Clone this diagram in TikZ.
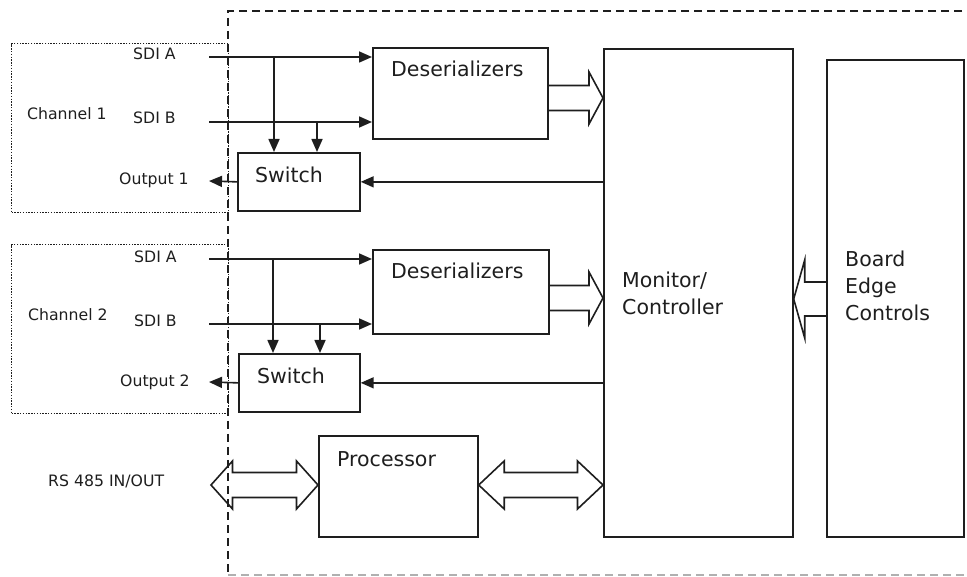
\documentclass[tikz,border=0pt]{standalone}
\usepackage{fontspec}
\setmainfont{DejaVu Sans}
\usetikzlibrary{arrows.meta,calc}

\definecolor{ink}{HTML}{1E1E1E}

\tikzset{
  box/.style={draw=ink, line width=1.7pt, rectangle, inner sep=0pt, anchor=north west},
  chanbox/.style={draw=ink, line width=1.3pt, dash pattern=on 1.4pt off 1.4pt, rectangle, inner sep=0pt, anchor=north west},
  outer/.style={draw=ink, line width=1.8pt, dash pattern=on 8pt off 5pt},
  sig/.style={draw=ink, line width=1.6pt, -{Triangle[length=13pt,width=11pt]}},
  blockline/.style={draw=ink, line width=1.6pt, line join=miter},
  bigtxt/.style={inner sep=0pt, text=ink, font=\fontsize{20.5}{27}\selectfont},
  smalltxt/.style={inner sep=0pt, text=ink, font=\fontsize{15.7}{19}\selectfont, anchor=base west},
}

% open-ended block arrow: start point, tip, head length, shaft half width, head half width
\newcommand\blockarrow[5]{%
  \draw[blockline] let \p1=(#1), \p2=(#2), \n1={ifthenelse(\x2>\x1,1,-1)} in
    (\x1,\y1+#4) -- (\x2-\n1*#3,\y1+#4) -- (\x2-\n1*#3,\y1+#5) -- (\x2,\y1)
    -- (\x2-\n1*#3,\y1-#5) -- (\x2-\n1*#3,\y1-#4) -- (\x1,\y1-#4);}

% closed two-headed block arrow: left tip, right tip, head length, shaft half, head half
\newcommand\blockdarrow[5]{%
  \draw[blockline] let \p1=(#1), \p2=(#2) in
    (\x1,\y1) -- (\x1+#3,\y1+#5) -- (\x1+#3,\y1+#4) -- (\x2-#3,\y1+#4)
    -- (\x2-#3,\y1+#5) -- (\x2,\y1) -- (\x2-#3,\y1-#5) -- (\x2-#3,\y1-#4)
    -- (\x1+#3,\y1-#4) -- (\x1+#3,\y1-#5) -- cycle;}

\begin{document}
\begin{tikzpicture}[x=1pt,y=-1pt]
\useasboundingbox (0,0) rectangle (967,577);

% channel groups
\node[chanbox, minimum width=217pt, minimum height=169pt] (ch1) at (11,43) {};
\node[chanbox, minimum width=217pt, minimum height=169pt] (ch2) at (11,244) {};

% blocks
\node[box, minimum width=175pt, minimum height=91pt] (des1) at (372,47) {};
\node[box, minimum width=122pt, minimum height=58pt] (sw1) at (237,152) {};
\node[box, minimum width=176pt, minimum height=84pt] (des2) at (372,249) {};
\node[box, minimum width=121pt, minimum height=58pt] (sw2) at (238,353) {};
\node[box, minimum width=159pt, minimum height=101pt] (proc) at (318,435) {};
\node[box, minimum width=189pt, minimum height=488pt] (mon) at (603,48) {};
\node[box, minimum width=137pt, minimum height=477pt] (board) at (826,59) {};

% block labels
\node[bigtxt, anchor=base west] (des1t) at (391,77) {Deserializers};
\node[bigtxt, anchor=base west] (des2t) at (391,279) {Deserializers};
\node[bigtxt, anchor=base west] (sw1t) at (255,183) {Switch};
\node[bigtxt, anchor=base west] (sw2t) at (257,384) {Switch};
\node[bigtxt, anchor=base west] (proct) at (337,466) {Processor};
\node[bigtxt, anchor=north west, align=left] (mont) at (622,271.4) {Monitor/\\Controller};
\node[bigtxt, anchor=north west, align=left] (boardt) at (845,250.4) {Board\\Edge\\Controls};

% port labels
\node[smalltxt] (sa1t) at (133,60) {SDI A};
\node[smalltxt] (sb1t) at (133,124) {SDI B};
\node[smalltxt] (c1t) at (27,120) {Channel 1};
\node[smalltxt] (o1t) at (119,185) {Output 1};
\node[smalltxt] (sa2t) at (134,263) {SDI A};
\node[smalltxt] (sb2t) at (134,327) {SDI B};
\node[smalltxt] (c2t) at (28,321) {Channel 2};
\node[smalltxt] (o2t) at (120,387) {Output 2};
\node[smalltxt] (rst) at (48,486) {RS 485 IN/OUT};

% channel 1 signals
\coordinate (sa1) at (209,57);
\coordinate (sb1) at (209,122);
\coordinate (ja1) at (274,57);
\coordinate (jb1) at (317,122);
\coordinate (o1) at (209,181);
\draw[sig] (sa1) -- (des1.west |- sa1);
\draw[sig] (sb1) -- (des1.west |- sb1);
\draw[sig] (ja1) -- (ja1 |- sw1.north);
\draw[sig] (jb1) -- (jb1 |- sw1.north);
\draw[sig] (sw1.west) -- (o1);
\draw[sig] (mon.west |- sw1.east) -- (sw1.east);

% channel 2 signals
\coordinate (sa2) at (209,259);
\coordinate (sb2) at (209,324);
\coordinate (ja2) at (273,259);
\coordinate (jb2) at (320,324);
\coordinate (o2) at (209,382);
\draw[sig] (sa2) -- (des2.west |- sa2);
\draw[sig] (sb2) -- (des2.west |- sb2);
\draw[sig] (ja2) -- (ja2 |- sw2.north);
\draw[sig] (jb2) -- (jb2 |- sw2.north);
\draw[sig] (sw2.west) -- (o2);
\draw[sig] (mon.west |- sw2.east) -- (sw2.east);

% bus arrows
\blockarrow{des1.east |- 0,98}{mon.west |- 0,98}{14pt}{12.5pt}{26pt}
\blockarrow{des2.east |- 0,298}{mon.west |- 0,298}{14pt}{12.5pt}{26pt}
\blockarrow{board.west |- 0,299}{mon.east |- 0,299}{11pt}{17pt}{39pt}
\coordinate (rs) at (211,485);
\blockdarrow{rs}{proc.west |- rs}{21.5pt}{12.5pt}{24pt}
\blockdarrow{proc.east |- rs}{mon.west |- rs}{25.5pt}{12.5pt}{24pt}

% card outline
\draw[outer] (975,11) -- (228,11) -- (228,575);
\draw[outer, draw=ink!35] (228,575) -- (975,575);
\end{tikzpicture}
\end{document}
